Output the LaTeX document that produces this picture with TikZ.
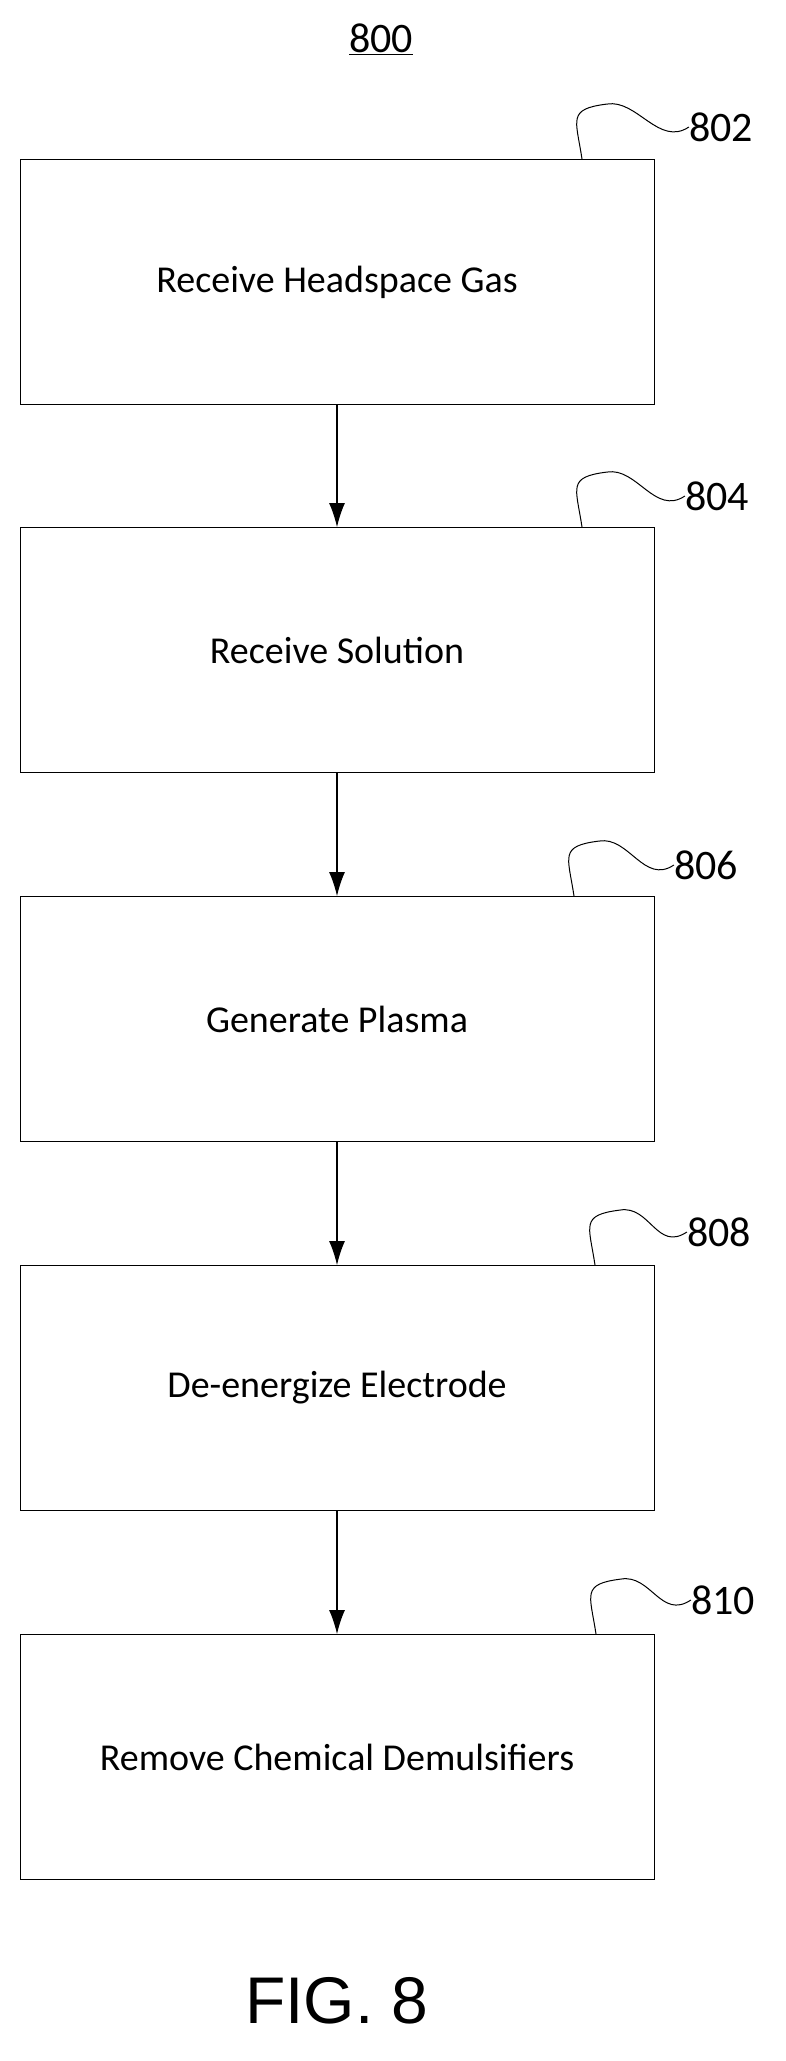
\documentclass[tikz,border=0pt]{standalone}
\usetikzlibrary{arrows.meta}
\usepackage{fontspec}
\setmainfont{Carlito}
\newfontfamily\figfont{Liberation Sans}
\begin{document}
\begin{tikzpicture}[x=1pt,y=-1pt,
  box/.style={draw,line width=0.9pt,minimum width=634pt,minimum height=245pt,inner sep=0pt,font=\fontsize{38}{44}\selectfont},
  lbl/.style={font=\fontsize{42}{48}\selectfont,inner sep=0pt},
  arr/.style={line width=1.2pt,-{Latex[length=24pt,width=16pt]}},
  squig/.style={line width=1pt}]
\useasboundingbox (0,0) rectangle (785,2061);
\node[lbl] (t) at (381,39) {\underline{800}};
\node[box] (b1) at (337,282) {Receive Headspace Gas};
\node[box] (b2) at (337,650) {Receive Solution};
\node[box] (b3) at (337,1019) {Generate Plasma};
\node[box] (b4) at (337,1388) {De-energize Electrode};
\node[box] (b5) at (337,1757) {Remove Chemical Demulsifiers};
\foreach \i/\n/\xa/\xl/\yl in {1/802/582/721/127,2/804/582/717/496,3/806/574/706/865,4/808/595/719/1232,5/810/596/723/1600}{
  \node[lbl] (l\i) at (\xl,\yl) {\n};
  \coordinate (s\i) at (\xa,0);
  \draw[squig] (b\i.north -| s\i) .. controls ++(-6,-40) and ++(-40,5) .. ++(25,-55) .. controls ++(30,-5) and ++(-30,20) .. (l\i.west);
}
\foreach \a/\b in {b1/b2,b2/b3,b3/b4,b4/b5}{\draw[arr] (\a.south) -- (\b.north);}
\node[inner sep=0pt,font=\figfont\fontsize{66}{70}\selectfont] (fig) at (337,2001) {FIG. 8};
\end{tikzpicture}
\end{document}
